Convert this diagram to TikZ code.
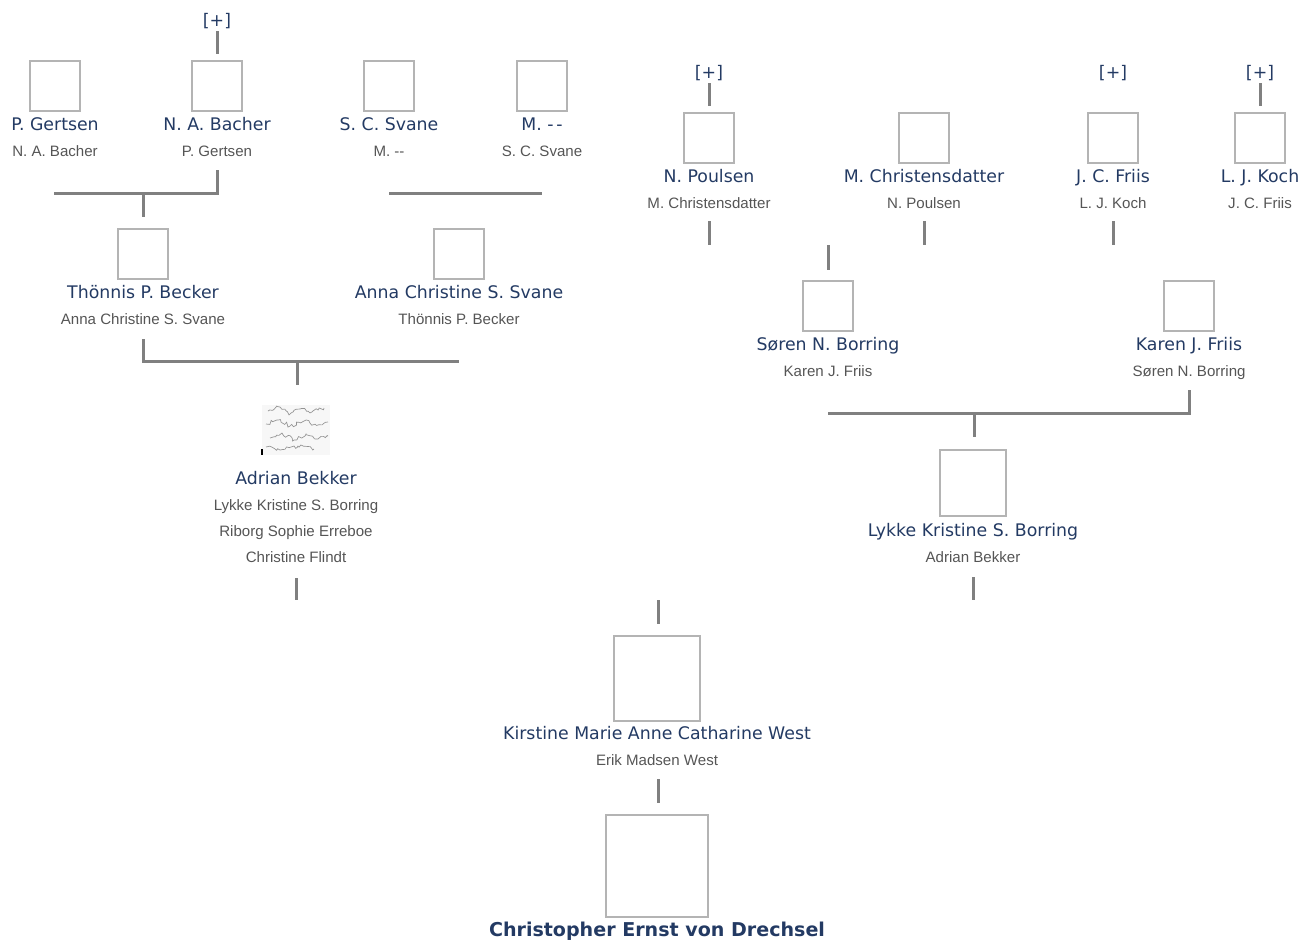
\documentclass[tikz,border=0pt]{standalone}
\usepackage{fontspec}
\setmainfont{DejaVu Sans}
\newfontfamily\spfont{Liberation Sans}
\usetikzlibrary{decorations.pathmorphing}
\definecolor{navy}{HTML}{233A63}
\definecolor{spgray}{HTML}{555555}
\definecolor{linegray}{HTML}{808080}
\definecolor{boxgray}{HTML}{B4B4B4}
\begin{document}
\begin{tikzpicture}[x=0.75pt,y=-0.75pt,
  photo/.style={draw=boxgray, line width=1.5pt, fill=white, inner sep=0pt, minimum width=38pt, minimum height=37.5pt},
  nm/.style={anchor=base, text=navy, font=\fontsize{13pt}{15pt}\selectfont, inner sep=0pt},
  me/.style={anchor=base, text=navy, font=\fontsize{14.3pt}{16pt}\selectfont\bfseries, inner sep=0pt},
  sp/.style={anchor=base, text=spgray, font=\spfont\fontsize{11.3pt}{13pt}\selectfont, inner sep=0pt},
  plus/.style={text=navy, font=\fontsize{13pt}{15pt}\selectfont, inner sep=0pt},
  conn/.style={draw=linegray, line width=2.25pt},
  scrib/.style={draw=gray!85, line width=0.5pt, decorate, decoration={random steps, segment length=1.6pt, amplitude=1.4pt}}]
\useasboundingbox (0,0) rectangle (1305,940);

% ---------- generation 4, left ----------
\node[photo] (gertsen) at (55,86) {};
\node[nm] (gertsen_n) at (55,130) {P. Gertsen};
\node[sp] (gertsen_s) at (55,156) {N. A. Bacher};

\node[photo] (bacher) at (217,86) {};
\node[nm] (bacher_n) at (217,130) {N. A. Bacher};
\node[sp] (bacher_s) at (217,156) {P. Gertsen};
\node[plus] (bacher_p) at (217,21) {[+]};

\node[photo] (svane) at (389,86) {};
\node[nm] (svane_n) at (389,130) {S. C. Svane};
\node[sp] (svane_s) at (389,156) {M. {-}{-}};

\node[photo] (m) at (542,86) {};
\node[nm] (m_n) at (542,130) {M. {-}\,{-}};
\node[sp] (m_s) at (542,156) {S. C. Svane};

% ---------- generation 3, left ----------
\node[photo] (becker) at (143,254) {};
\node[nm] (becker_n) at (143,298) {Thönnis P. Becker};
\node[sp] (becker_s) at (143,324) {Anna Christine S. Svane};

\node[photo] (anna) at (459,254) {};
\node[nm] (anna_n) at (459,298) {Anna Christine S. Svane};
\node[sp] (anna_s) at (459,324) {Thönnis P. Becker};

% ---------- Adrian Bekker ----------
\node[draw=none, fill=gray!6, minimum width=51pt, minimum height=38pt, inner sep=0pt] (adrian) at (296,430) {};
\begin{scope}
\pgfmathsetseed{7}
\draw[scrib] (268,411) -- (280,407) -- (290,414) -- (300,409) -- (312,412) -- (324,408);
\draw[scrib] (266,424) -- (278,420) -- (290,426) -- (304,421) -- (316,425) -- (328,422);
\draw[scrib] (270,438) -- (282,433) -- (294,440) -- (306,434) -- (318,439) -- (328,436);
\draw[scrib] (266,447) -- (280,450) -- (298,446) -- (314,449);
\draw[draw=black, line width=0.8pt] (262,449) -- (262,455);
\end{scope}
\node[nm] (adrian_n) at (296,484) {Adrian Bekker};
\node[sp] (adrian_s1) at (296,510) {Lykke Kristine S. Borring};
\node[sp] (adrian_s2) at (296,536) {Riborg Sophie Erreboe};
\node[sp] (adrian_s3) at (296,562) {Christine Flindt};

% ---------- generation 4, right ----------
\node[photo] (poulsen) at (709,138) {};
\node[nm] (poulsen_n) at (709,182) {N. Poulsen};
\node[sp] (poulsen_s) at (709,208) {M. Christensdatter};
\node[plus] (poulsen_p) at (709,73) {[+]};

\node[photo] (christ) at (924,138) {};
\node[nm] (christ_n) at (924,182) {M. Christensdatter};
\node[sp] (christ_s) at (924,208) {N. Poulsen};

\node[photo] (jfriis) at (1113,138) {};
\node[nm] (jfriis_n) at (1113,182) {J. C. Friis};
\node[sp] (jfriis_s) at (1113,208) {L. J. Koch};
\node[plus] (jfriis_p) at (1113,73) {[+]};

\node[photo] (koch) at (1260,138) {};
\node[nm] (koch_n) at (1260,182) {L. J. Koch};
\node[sp] (koch_s) at (1260,208) {J. C. Friis};
\node[plus] (koch_p) at (1260,73) {[+]};

% ---------- generation 3, right ----------
\node[photo] (soren) at (828,306) {};
\node[nm] (soren_n) at (828,350) {Søren N. Borring};
\node[sp] (soren_s) at (828,376) {Karen J. Friis};

\node[photo] (karen) at (1189,306) {};
\node[nm] (karen_n) at (1189,350) {Karen J. Friis};
\node[sp] (karen_s) at (1189,376) {Søren N. Borring};

% ---------- Lykke ----------
\node[photo, minimum width=50pt, minimum height=50pt] (lykke) at (973,483) {};
\node[nm] (lykke_n) at (973,536) {Lykke Kristine S. Borring};
\node[sp] (lykke_s) at (973,562) {Adrian Bekker};

% ---------- Kirstine ----------
\node[photo, minimum width=64.5pt, minimum height=63.75pt] (kirstine) at (657,678) {};
\node[nm] (kirstine_n) at (657,739) {Kirstine Marie Anne Catharine West};
\node[sp] (kirstine_s) at (657,765) {Erik Madsen West};

% ---------- Christopher ----------
\node[photo, minimum width=77pt, minimum height=76.5pt] (chris) at (657,866) {};
\node[me] (chris_n) at (657,936) {Christopher Ernst von Drechsel};

% ---------- connector coordinates ----------
\coordinate (a1) at (217,31);  \coordinate (a2) at (217,54);
\coordinate (b1) at (217,170); \coordinate (b2) at (217,193); \coordinate (b3) at (54,193);
\coordinate (b4) at (143,193); \coordinate (b5) at (143,217);
\coordinate (c1) at (389,193); \coordinate (c2) at (542,193);
\coordinate (d1) at (143,339); \coordinate (d2) at (143,361); \coordinate (d3) at (459,361);
\coordinate (d4) at (297,361); \coordinate (d5) at (297,385);
\coordinate (e1) at (296,578); \coordinate (e2) at (296,600);
\coordinate (f1) at (709,83);  \coordinate (f2) at (709,106);
\coordinate (g1) at (1260,83); \coordinate (g2) at (1260,106);
\coordinate (h1) at (709,221); \coordinate (h2) at (709,245);
\coordinate (i1) at (924,221); \coordinate (i2) at (924,245);
\coordinate (j1) at (1113,221); \coordinate (j2) at (1113,245);
\coordinate (k1) at (828,245); \coordinate (k2) at (828,270);
\coordinate (l1) at (1189,390); \coordinate (l2) at (1189,413); \coordinate (l3) at (828,413);
\coordinate (l4) at (974,413); \coordinate (l5) at (974,437);
\coordinate (m1) at (973,577); \coordinate (m2) at (973,600);
\coordinate (n1) at (658,600); \coordinate (n2) at (658,624);
\coordinate (o1) at (658,779); \coordinate (o2) at (658,803);

\draw[conn] (a1) -- (a2);
\draw[conn] (b1) -- (b2) -- (b3);
\draw[conn] (b4) -- (b5);
\draw[conn] (c1) -- (c2);
\draw[conn] (d1) -- (d2) -- (d3);
\draw[conn] (d4) -- (d5);
\draw[conn] (e1) -- (e2);
\draw[conn] (f1) -- (f2);
\draw[conn] (g1) -- (g2);
\draw[conn] (h1) -- (h2);
\draw[conn] (i1) -- (i2);
\draw[conn] (j1) -- (j2);
\draw[conn] (k1) -- (k2);
\draw[conn] (l1) -- (l2) -- (l3);
\draw[conn] (l4) -- (l5);
\draw[conn] (m1) -- (m2);
\draw[conn] (n1) -- (n2);
\draw[conn] (o1) -- (o2);
\end{tikzpicture}
\end{document}
